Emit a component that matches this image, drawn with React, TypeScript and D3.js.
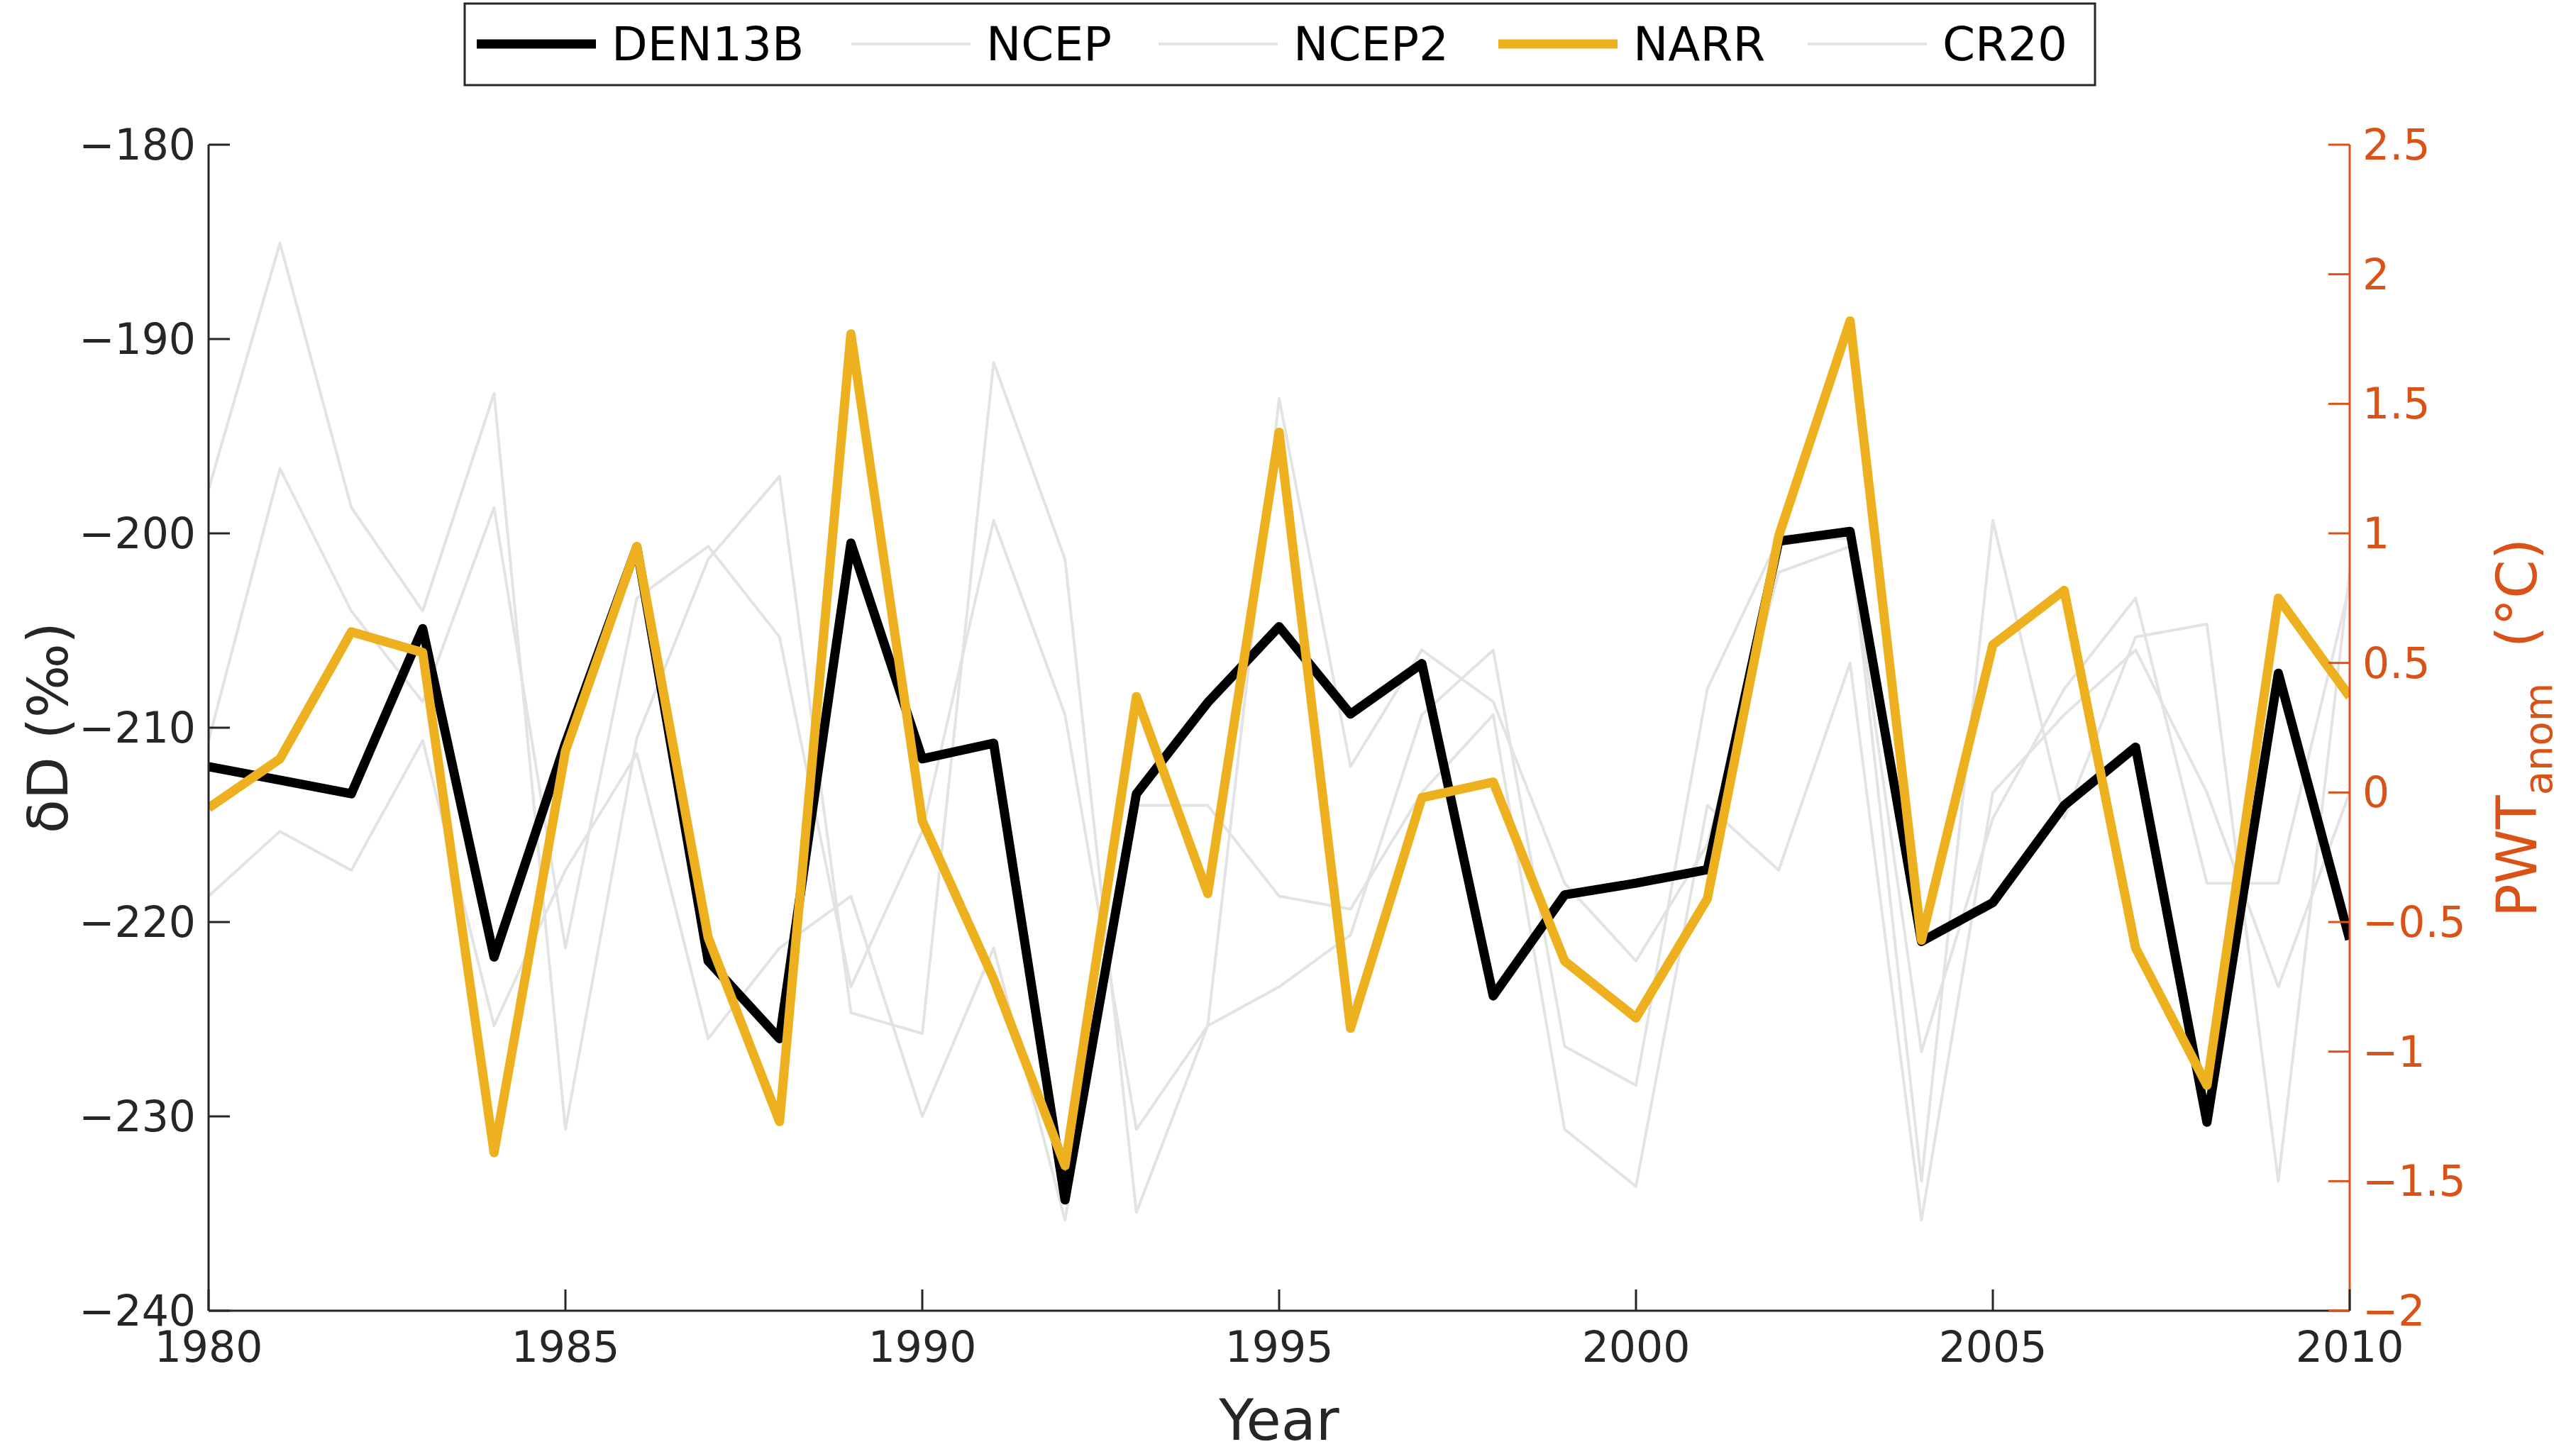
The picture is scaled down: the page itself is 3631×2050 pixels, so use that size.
import * as d3 from 'd3';

const years = d3.range(1980, 2011);
// DEN13B δD (‰), left axis
const den13b = [-212.0, -212.7, -213.4, -204.9, -221.8, -210.8, -200.7, -222.0, -226.0, -200.5, -211.6, -210.8, -234.3, -213.4, -208.7, -204.8, -209.3, -206.7, -223.8, -218.6, -218.0, -217.3, -200.4, -199.9, -221.0, -219.0, -214.0, -211.0, -230.3, -207.2, -220.9];
// PWT anomalies (°C), right axis
const narr = [-0.06, 0.13, 0.62, 0.54, -1.39, 0.16, 0.95, -0.56, -1.27, 1.77, -0.11, -0.72, -1.44, 0.37, -0.39, 1.39, -0.91, -0.02, 0.04, -0.65, -0.87, -0.41, 0.99, 1.82, -0.57, 0.57, 0.78, -0.6, -1.13, 0.75, 0.37];
const ncep = [1.17, 2.12, 1.1, 0.7, 1.54, -1.3, 0.21, 0.9, 1.22, -0.85, -0.93, 1.66, 0.9, -1.62, -0.9, -0.75, -0.55, 0.3, 0.55, -0.98, -1.13, 0.4, 0.98, 0.98, -1.5, 1.05, -0.1, 0.6, 0.65, -1.5, 0.85];
const ncep2 = [0.2, 1.25, 0.7, 0.35, 1.1, -0.6, 0.75, 0.95, 0.6, -0.75, -0.15, 1.05, 0.3, -1.3, -0.9, 1.52, 0.1, 0.55, 0.35, -0.35, -0.65, -0.2, 0.85, 0.95, -1.0, -0.1, 0.4, 0.75, -0.35, -0.35, 0.8];
const cr20 = [-0.4, -0.15, -0.3, 0.2, -0.9, -0.3, 0.15, -0.95, -0.6, -0.4, -1.25, -0.6, -1.65, -0.05, -0.05, -0.4, -0.45, 0.0, 0.3, -1.3, -1.52, -0.05, -0.3, 0.5, -1.65, 0.0, 0.3, 0.55, 0.0, -0.75, 0.0];

const leftTicks = [-240, -230, -220, -210, -200, -190, -180];
const rightTicks = [-2, -1.5, -1, -0.5, 0, 0.5, 1, 1.5, 2, 2.5];
const xTicks = [1980, 1985, 1990, 1995, 2000, 2005, 2010];

const W = 3631, H = 2050;
const L = 294, R = 3312, T = 204, B = 1848;
const orange = '#D95319', gold = '#EDB120', gray = '#e3e3e3';
const font = 'DejaVu Sans, sans-serif';

export default function App() {
  const x = d3.scaleLinear().domain([1980, 2010]).range([L, R]);
  const yL = d3.scaleLinear().domain([-240, -180]).range([B, T]);
  const yR = d3.scaleLinear().domain([-2, 2.5]).range([B, T]);
  const lineR = d3.line<number>().x((_, i) => x(years[i])).y(d => yR(d));
  const lineL = d3.line<number>().x((_, i) => x(years[i])).y(d => yL(d));

  const legend = [
    { name: 'DEN13B', color: '#000', w: 13 },
    { name: 'NCEP', color: gray, w: 4 },
    { name: 'NCEP2', color: gray, w: 4 },
    { name: 'NARR', color: gold, w: 13 },
    { name: 'CR20', color: gray, w: 4 },
  ];
  const legX = [672, 1200, 1633, 2112, 2548];

  return (
    <svg width={W} height={H} style={{ position: 'absolute', left: 0, top: 0, background: '#fff' }} fontFamily={font}>
      <defs><clipPath id="c"><rect x={L} y={T - 10} width={R - L} height={B - T + 20} /></clipPath></defs>
      <g clipPath="url(#c)" fill="none" strokeLinejoin="round">
        {[ncep, ncep2, cr20].map((s, i) => <path key={i} d={lineR(s)!} stroke={gray} strokeWidth={4} />)}
        <path d={lineL(den13b)!} stroke="#000" strokeWidth={13} />
        <path d={lineR(narr)!} stroke={gold} strokeWidth={13} />
      </g>
      <line x1={L} x2={L} y1={T} y2={B} stroke="#262626" strokeWidth={3} />
      <line x1={L} x2={R} y1={B} y2={B} stroke="#262626" strokeWidth={3} />
      <line x1={R} x2={R} y1={T} y2={B} stroke={orange} strokeWidth={3} />
      {leftTicks.map(t => (
        <g key={t}>
          <line x1={L} x2={L + 30} y1={yL(t)} y2={yL(t)} stroke="#262626" strokeWidth={3} />
          <text x={L - 18} y={yL(t)} dy="0.35em" textAnchor="end" fontSize={60} fill="#262626">{'\u2212' + Math.abs(t)}</text>
        </g>
      ))}
      {rightTicks.map(t => (
        <g key={t}>
          <line x1={R - 30} x2={R} y1={yR(t)} y2={yR(t)} stroke={orange} strokeWidth={3} />
          <text x={R + 18} y={yR(t)} dy="0.35em" fontSize={60} fill={orange}>{(t < 0 ? '\u2212' : '') + Math.abs(t)}</text>
        </g>
      ))}
      {xTicks.map(t => (
        <g key={t}>
          <line x1={x(t)} x2={x(t)} y1={B} y2={B - 30} stroke="#262626" strokeWidth={3} />
          <text x={x(t)} y={B + 72} textAnchor="middle" fontSize={60} fill="#262626">{t}</text>
        </g>
      ))}
      <text x={(L + R) / 2} y={2030} textAnchor="middle" fontSize={80} fill="#262626">Year</text>
      <text transform={`translate(95,${(T + B) / 2}) rotate(-90)`} textAnchor="middle" fontSize={78} fill="#262626">δD (‰)</text>
      <text transform={`translate(3575,${(T + B) / 2}) rotate(-90)`} textAnchor="middle" fontSize={78} fill={orange}>
        PWT<tspan fontSize={56} dy={22}>anom</tspan><tspan dy={-22}>{'\u00a0\u00a0(°C)'}</tspan>
      </text>
      <rect x={655} y={5} width={2298} height={115} fill="#fff" stroke="#262626" strokeWidth={3} />
      {legend.map((l, i) => (
        <g key={l.name}>
          <line x1={legX[i]} x2={legX[i] + 168} y1={62} y2={62} stroke={l.color} strokeWidth={l.w} />
          <text x={legX[i] + 190} y={62} dy="0.35em" fontSize={66} fill="#000">{l.name}</text>
        </g>
      ))}
    </svg>
  );
}
